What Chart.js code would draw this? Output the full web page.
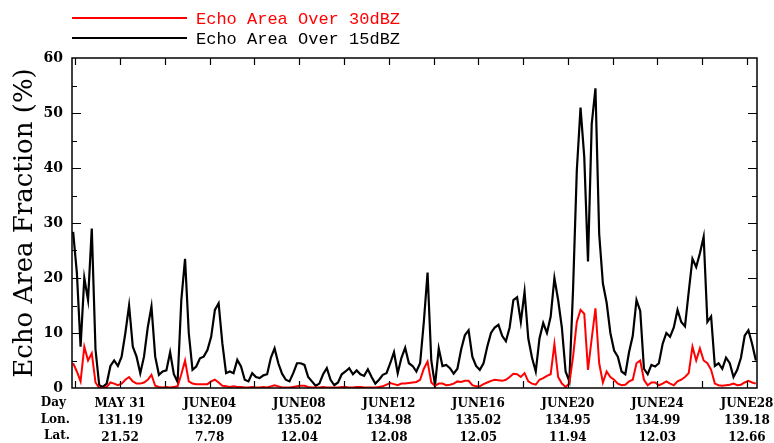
<!DOCTYPE html>
<html>
<head>
<meta charset="utf-8">
<script src="https://cdn.jsdelivr.net/npm/chart.js@4.4.1/dist/chart.umd.min.js"></script>
<style>
  html, body { margin: 0; padding: 0; background: #fff; }
</style>
</head>
<body>
<canvas id="chart" width="774" height="443"></canvas>
<script>
// sampling: every 4 hours, days counted from May 31 00Z
const startDay = -2.1;
const stepDay = 1 / 6;

// echo area fraction (%) over 15 dBZ
const echo15 = [
  28.4, 21, 7.5, 20, 16, 29, 7, 0.5, 0.2, 0.8,
  4, 5, 4, 5.7, 10, 15, 7.5, 5.7, 2.7, 5.7,
  11, 14.8, 5.7, 2.4, 3, 3.2, 6.5, 2.5, 1.1, 16,
  23.5, 10, 3.3, 3.9, 5.4, 5.7, 6.9, 9.3, 14.2, 15.4,
  8.1, 2.7, 3, 2.7, 5.1, 3.9, 1.5, 1.2, 2.7, 2,
  1.8, 2.3, 2.5, 5.5, 7.2, 4.5, 2.6, 1.5, 1.2, 2.7,
  4.5, 4.5, 4.2, 2, 1.2, 0.4, 0.8, 2.5, 3.6, 1.5,
  0.5, 1, 2.5, 3, 3.6, 2.5, 3.2, 2.5, 2.2, 3.4,
  2, 0.8, 1.5, 2.4, 2.7, 4.5, 6.5, 2.7, 5.5, 7.3,
  4.5, 4, 3, 4.5, 12, 21, 5, 0.5, 7.2, 4,
  4.2, 3.6, 2.6, 3.5, 7, 9.6, 10.5, 5.7, 4, 3.3,
  4.5, 7.5, 10, 11, 11.5, 9.5, 8.5, 11, 16, 16.5,
  12, 17.5, 9, 5.5, 3, 9, 11.8, 10, 13, 20,
  16, 11, 3, 1.2, 18, 39.5, 51, 42, 23, 48,
  54.5, 28, 19, 15.5, 10, 6.8, 5.7, 3, 2.5, 6.5,
  9.5, 16, 14, 3.5, 2.5, 4.2, 3.9, 4.5, 8, 10,
  9.3, 11, 14.2, 12, 11.2, 17.5, 23.5, 22, 24.5, 27.5,
  12, 13, 4, 4.5, 3.5, 5.5, 4.5, 2, 3.3, 5.5,
  9.5, 10.5, 8, 5
];

// echo area fraction (%) over 30 dBZ
const echo30 = [
  4.5, 3, 1.2, 7.5, 5, 6.3, 1, 0, 0, 0.2,
  1, 0.8, 0.5, 0.8, 1.5, 2, 1.2, 0.8, 0.8, 1,
  1.5, 2.4, 0.4, 0.2, 0.1, 0.2, 0.1, 0.2, 0.3, 2.5,
  5, 1.2, 0.8, 0.7, 0.7, 0.7, 0.7, 1.2, 1.5, 1,
  0.4, 0.3, 0.2, 0.3, 0.2, 0.2, 0.1, 0.1, 0.2, 0.1,
  0.1, 0.2, 0.1, 0.3, 0.5, 0.3, 0.1, 0.1, 0.1, 0.2,
  0.3, 0.4, 0.4, 0.2, 0.1, 0.1, 0.1, 0.2, 0.1, 0.1,
  0.1, 0.1, 0.2, 0.2, 0.1, 0.1, 0.2, 0.2, 0.1, 0.1,
  0.1, 0.1, 0.2, 0.3, 0.6, 0.9, 0.7, 0.5, 0.8, 0.8,
  0.9, 1, 1.1, 1.5, 3.5, 4.8, 1, 0.4, 0.8, 0.8,
  0.5, 0.6, 0.8, 1.2, 1.1, 1.3, 1.3, 0.5, 0.3, 0.3,
  0.7, 1, 1.3, 1.5, 1.4, 1.3, 1.5, 2, 2.6, 2.5,
  2, 2.7, 1.2, 0.8, 0.6, 1.5, 1.8, 2.2, 2.5, 8,
  2, 0.8, 0.2, 0.8, 5.7, 12, 14.2, 13.5, 3.3, 9,
  14.5, 4.5, 1, 3, 2, 1.5, 0.8, 0.5, 0.6, 1.2,
  1.5, 4.5, 5, 1.5, 0.5, 1, 1, 0.5, 0.8, 1.2,
  0.8, 0.5, 1.2, 1.5, 2, 2.7, 7.5, 5, 7.2, 5,
  4.5, 3.3, 0.8, 0.5, 0.4, 0.5, 0.6, 0.8, 0.5, 0.6,
  1, 1.3, 1, 0.8
];

// labelled days on the time axis
const tickDays = [0, 4, 8, 12, 16, 20, 24, 28];
const tickDates = ["MAY 31", "JUNE04", "JUNE08", "JUNE12", "JUNE16", "JUNE20", "JUNE24", "JUNE28"];
const tickLon = ["131.19", "132.09", "135.02", "134.98", "135.02", "134.95", "134.99", "139.18"];
const tickLat = ["21.52", "7.78", "12.04", "12.08", "12.05", "11.94", "12.03", "12.66"];
const rowNames = ["Day", "Lon.", "Lat."];

const yTicks = [0, 10, 20, 30, 40, 50, 60];

const seriesNames = ["Echo Area Over 30dBZ", "Echo Area Over 15dBZ"];
const seriesColors = ["#ff0000", "#000000"];

const toPoints = (values) => values.map((v, i) => ({ x: startDay + i * stepDay, y: v }));

const tickFont = { family: "DejaVu Serif", size: 12, weight: "bold", lineHeight: 1.38 };

// frame, inward ticks, legend and row captions
const framePlugin = {
  id: "frame",
  afterDraw(chart) {
    const { ctx, chartArea: a, scales: { x, y } } = chart;
    ctx.save();
    ctx.strokeStyle = "#000";
    ctx.lineWidth = 1.5;
    ctx.strokeRect(a.left, a.top, a.right - a.left, a.bottom - a.top);

    ctx.lineWidth = 1.2;
    ctx.beginPath();
    for (let v = 5; v < 60; v += 5) {
      const py = Math.round(y.getPixelForValue(v)) + 0.5;
      const len = v % 10 === 0 ? 9 : 5;
      ctx.moveTo(a.left, py);
      ctx.lineTo(a.left + len, py);
      ctx.moveTo(a.right, py);
      ctx.lineTo(a.right - len, py);
    }
    for (let d = -2; d <= 28; d += 2) {
      const px = Math.round(x.getPixelForValue(d)) + 0.5;
      ctx.moveTo(px, a.top);
      ctx.lineTo(px, a.top + 7);
      ctx.moveTo(px, a.bottom);
      ctx.lineTo(px, a.bottom - 7);
    }
    ctx.stroke();

    // legend
    ctx.font = "17px 'Liberation Mono'";
    ctx.textBaseline = "middle";
    ctx.textAlign = "left";
    ctx.lineWidth = 2;
    seriesNames.forEach((name, k) => {
      const ly = 18 + k * 20;
      ctx.strokeStyle = seriesColors[k];
      ctx.beginPath();
      ctx.moveTo(72, ly);
      ctx.lineTo(187, ly);
      ctx.stroke();
      ctx.fillStyle = seriesColors[k];
      ctx.fillText(name, 196, ly + 1);
    });

    // row captions left of the time labels
    ctx.fillStyle = "#000";
    ctx.font = "bold 12px 'DejaVu Serif'";
    ctx.textAlign = "right";
    rowNames.forEach((name, k) => {
      ctx.fillText(name, k === 0 ? 66 : 70, a.bottom + 15 + k * 16.5);
    });
    ctx.restore();
  },
};

new Chart(document.getElementById("chart"), {
  type: "line",
  data: {
    datasets: [
      {
        label: seriesNames[0],
        data: toPoints(echo30),
        borderColor: seriesColors[0],
        borderWidth: 2,
        pointRadius: 0,
        tension: 0,
      },
      {
        label: seriesNames[1],
        data: toPoints(echo15),
        borderColor: seriesColors[1],
        borderWidth: 2.2,
        pointRadius: 0,
        tension: 0,
      },
    ],
  },
  options: {
    responsive: false,
    animation: false,
    layout: { padding: { top: 58, right: 17, left: 0, bottom: 0 } },
    plugins: {
      legend: { display: false },
      tooltip: { enabled: false },
    },
    scales: {
      x: {
        type: "linear",
        min: -2.15,
        max: 28.45,
        grid: { display: false, drawTicks: false },
        border: { display: false },
        afterBuildTicks: (scale) => {
          scale.ticks = tickDays.map((d) => ({ value: d }));
        },
        afterFit: (scale) => {
          scale.height = 55;
          scale.paddingLeft = 0;
          scale.paddingRight = 0;
        },
        ticks: {
          autoSkip: false,
          maxRotation: 0,
          padding: 8,
          color: "#000",
          font: tickFont,
          callback: (value) => {
            const k = tickDays.indexOf(value);
            return k < 0 ? "" : [tickDates[k], tickLon[k], tickLat[k]];
          },
        },
      },
      y: {
        min: 0,
        max: 60,
        grid: { display: false, drawTicks: false },
        border: { display: false },
        afterBuildTicks: (scale) => {
          scale.ticks = yTicks.map((v) => ({ value: v }));
        },
        afterFit: (scale) => {
          scale.width = 72;
        },
        ticks: {
          padding: 9,
          color: "#000",
          font: { family: "DejaVu Serif", size: 14, weight: "bold" },
        },
        title: {
          display: true,
          text: "Echo Area Fraction (%)",
          color: "#000",
          font: { family: "DejaVu Serif", size: 26 },
          padding: { top: 10, bottom: 0 },
        },
      },
    },
  },
  plugins: [framePlugin],
});
</script>
</body>
</html>
